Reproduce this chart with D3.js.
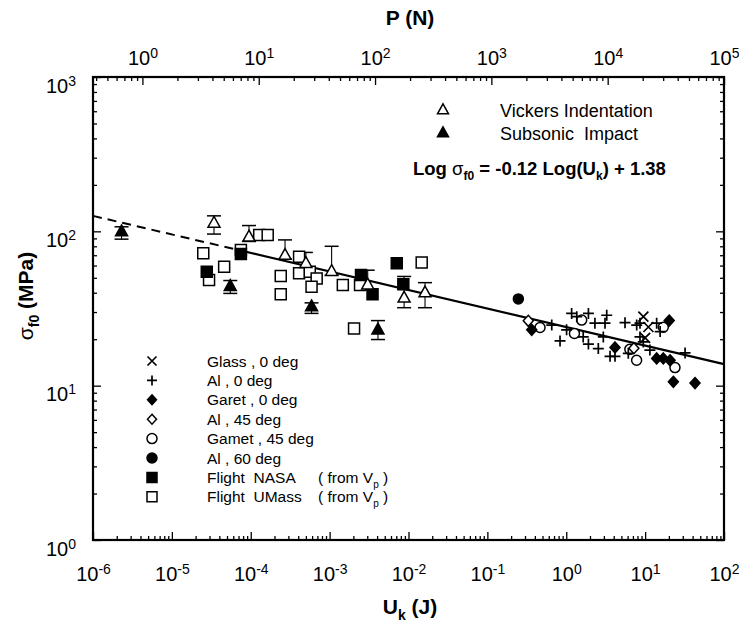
<!DOCTYPE html>
<html>
<head>
<meta charset="utf-8">
<script src="https://cdn.jsdelivr.net/npm/d3@7"></script>
<style>
  body { margin: 0; background: #fff; }
  svg { display: block; }
  text { font-family: "Liberation Sans", Arial, Helvetica, sans-serif; fill: #000; }
</style>
</head>
<body>
<svg id="chart" width="739" height="632"></svg>
<script>
// ---- axis domains and ticks ----
const uDomain = [1e-6, 1e2];          // kinetic energy U_k (J)
const sigmaDomain = [1, 1e3];         // strength sigma_f0 (MPa)
const pDomain = [0.376, 1e5];         // load P (N), top axis
const uTicks = [1e-6, 1e-5, 1e-4, 1e-3, 1e-2, 1e-1, 1e0, 1e1, 1e2];
const sigmaTicks = [1e0, 1e1, 1e2, 1e3];
const pTicks = [1e0, 1e1, 1e2, 1e3, 1e4, 1e5];

// ---- fitted line: Log sigma = slope * Log(U) + intercept ----
const fitSlope = -0.12;
const fitIntercept = 1.38;
const fitDashedEnd = 6.3e-5;          // extrapolated (dashed) below this energy

// ---- data: [U (J), sigma (MPa), lower, upper] ----
const vickers = [
  [3.42e-5, 113, 96, 126],
  [9.5e-5, 92, 86, 109],
  [2.72e-4, 70, 66, 88],
  [5.0e-4, 62, 58, 73],
  [1.06e-3, 55, 52, 80],
  [3.04e-3, 45, 42, 56],
  [8.8e-3, 37, 32, 51],
  [1.62e-2, 40, 32, 46.5]
];
const subsonic = [
  [2.3e-6, 99.5, 89, 107],
  [5.5e-5, 44, 39.6, 48],
  [5.9e-4, 32.5, 29.4, 34.4],
  [4.1e-3, 23, 19.9, 26.4]
];
// ---- data: [U (J), sigma (MPa)] ----
const glass0 = [[9.5, 28], [11, 24], [10, 20.4]];
const al0 = [
  [0.655, 24.7], [0.834, 19.5], [1.01, 23.0], [1.17, 29.4], [1.36, 28.0],
  [1.91, 29.4], [1.64, 20.7], [1.91, 18.6], [2.55, 17.4], [2.31, 25.4],
  [3.10, 25.4], [3.26, 28.6], [2.95, 20.7], [3.59, 15.5], [4.15, 15.5],
  [5.56, 25.6], [7.82, 24.7], [8.61, 20.7], [11.5, 17.0], [14.0, 25.4],
  [15.5, 22.4], [9.48, 19.2], [32.1, 16.3], [6.12, 16.2], [8.61, 25.4]
];
const garnet0 = [
  [0.365, 23.0], [4.15, 17.7], [20.2, 26.4], [14.0, 15.0], [17.0, 15.0],
  [20.7, 14.6], [22.8, 10.6], [42.9, 10.4]
];
const al45 = [[0.33, 26.3], [7.2, 17.5]];
const garnet45 = [
  [0.465, 23.8], [1.57, 26.6], [1.27, 21.8], [6.4, 17.2], [7.8, 14.6],
  [17.0, 23.9], [23.9, 13.1]
];
const al60 = [[0.247, 36.5]];
const flightNASA = [
  [2.77e-5, 54.7], [7.5e-5, 71.3], [2.5e-3, 52.1], [3.5e-3, 39.1],
  [7.1e-3, 62.1], [8.6e-3, 45.4]
];
const flightUMass = [
  [2.5e-5, 72.1], [2.96e-5, 48.4], [4.6e-5, 59.0], [7.5e-5, 75.7],
  [1.28e-4, 94.6], [1.64e-4, 94.6], [2.4e-4, 51.4], [2.4e-4, 39.1],
  [4.1e-4, 68.5], [4.1e-4, 53.5], [5.6e-4, 54.7], [6.85e-4, 49.5],
  [5.9e-4, 43.8], [1.47e-3, 44.9], [2.43e-3, 44.9], [1.47e-2, 62.7],
  [2.04e-3, 23.5]
];

// ---- layout ----
const plot = { left: 93, right: 724, top: 77, bottom: 540 };
const svg = d3.select("#chart");

const x = d3.scaleLog().domain(uDomain).range([plot.left, plot.right]);
const y = d3.scaleLog().domain(sigmaDomain).range([plot.bottom, plot.top]);
const xp = d3.scaleLog().domain(pDomain).range([plot.left, plot.right]);

function minorTicks(scale) {
  const [a, b] = scale.domain();
  const out = [];
  for (let e = Math.floor(Math.log10(a)); e < Math.ceil(Math.log10(b)); e++) {
    for (let m = 2; m <= 9; m++) {
      const v = m * Math.pow(10, e);
      if (v > a && v < b) out.push(v);
    }
  }
  return out;
}

function powerLabel(sel) {
  sel.each(function (d) {
    const t = d3.select(this);
    t.text(null);
    t.append("tspan").text("10");
    t.append("tspan").attr("dy", "-0.5em").attr("font-size", "14px")
      .text(Math.round(Math.log10(d)));
  });
}

function styleAxis(g) {
  g.select(".domain").remove();
  g.selectAll(".tick line").attr("stroke", "#000").attr("stroke-width", 1.3);
}

// bottom axis (U_k)
const gBottom = svg.append("g").attr("transform", `translate(0,${plot.bottom})`);
gBottom.append("g").call(d3.axisBottom(x).tickValues(minorTicks(x)).tickSize(-4).tickFormat("")).call(styleAxis);
gBottom.append("g")
  .call(d3.axisBottom(x).tickValues(uTicks).tickSize(-8))
  .call(styleAxis)
  .call(g => g.selectAll(".tick text").attr("y", 41).attr("dy", 0)
    .attr("font-size", "20px").call(powerLabel));

// top axis (P)
const gTop = svg.append("g").attr("transform", `translate(0,${plot.top})`);
gTop.append("g").call(d3.axisTop(xp).tickValues(minorTicks(xp)).tickSize(-4).tickFormat("")).call(styleAxis);
gTop.append("g")
  .call(d3.axisTop(xp).tickValues(pTicks).tickSize(-8))
  .call(styleAxis)
  .call(g => g.selectAll(".tick text").attr("y", -12).attr("dy", 0)
    .attr("font-size", "20px").call(powerLabel));

// left axis (sigma)
const gLeft = svg.append("g").attr("transform", `translate(${plot.left},0)`);
gLeft.append("g").call(d3.axisLeft(y).tickValues(minorTicks(y)).tickSize(-4).tickFormat("")).call(styleAxis);
gLeft.append("g")
  .call(d3.axisLeft(y).tickValues(sigmaTicks).tickSize(-8))
  .call(styleAxis)
  .call(g => g.selectAll(".tick text").attr("x", -17).attr("dy", 0).attr("y", 15)
    .attr("text-anchor", "end").attr("font-size", "20px").call(powerLabel));

// right axis (sigma, mirrored ticks)
const gRight = svg.append("g").attr("transform", `translate(${plot.right},0)`);
gRight.append("g").call(d3.axisRight(y).tickValues(minorTicks(y)).tickSize(-4).tickFormat("")).call(styleAxis);
gRight.append("g").call(d3.axisRight(y).tickValues(sigmaTicks).tickSize(-8).tickFormat("")).call(styleAxis);

// frame
svg.append("rect")
  .attr("x", plot.left).attr("y", plot.top)
  .attr("width", plot.right - plot.left).attr("height", plot.bottom - plot.top)
  .attr("fill", "none").attr("stroke", "#000").attr("stroke-width", 2.2);

// axis titles
svg.append("text").attr("x", 410).attr("y", 25).attr("text-anchor", "middle")
  .attr("font-size", "21px").attr("font-weight", "bold").text("P  (N)");

const uTitle = svg.append("text").attr("x", 410).attr("y", 614).attr("text-anchor", "middle")
  .attr("font-size", "21px").attr("font-weight", "bold");
uTitle.append("tspan").text("U");
uTitle.append("tspan").attr("dy", 6).attr("font-size", "14px").text("k");
uTitle.append("tspan").attr("dy", -6).text("  (J)");

const sTitle = svg.append("text")
  .attr("transform", "translate(33,296) rotate(-90)")
  .attr("text-anchor", "middle").attr("font-size", "21px").attr("font-weight", "bold");
sTitle.append("tspan").attr("font-weight", "normal").text("σ");
sTitle.append("tspan").attr("dy", 6).attr("font-size", "14px").text("f0");
sTitle.append("tspan").attr("dy", -6).text("  (MPa)");

// fitted line
const fit = u => Math.pow(10, fitSlope * Math.log10(u) + fitIntercept);
const line = d3.line().x(d => x(d)).y(d => y(fit(d)));
svg.append("path").attr("d", line([uDomain[0], fitDashedEnd]))
  .attr("fill", "none").attr("stroke", "#000").attr("stroke-width", 2)
  .attr("stroke-dasharray", "9,6");
svg.append("path").attr("d", line([fitDashedEnd, uDomain[1]]))
  .attr("fill", "none").attr("stroke", "#000").attr("stroke-width", 2.2);

// marker shapes
function shapePath(kind, s) {
  const h = s / 2;
  switch (kind) {
    case "triangle": {
      const th = s * 0.9;
      return `M0,${-th * 0.62}L${h},${th * 0.38}L${-h},${th * 0.38}Z`;
    }
    case "square": return `M${-h},${-h}H${h}V${h}H${-h}Z`;
    case "diamond": return `M0,${-h * 1.1}L${h},0L0,${h * 1.1}L${-h},0Z`;
    case "plus": return `M${-h},0H${h}M0,${-h}V${h}`;
    case "cross": return `M${-h},${-h}L${h},${h}M${-h},${h}L${h},${-h}`;
  }
}
function drawMarker(g, kind, filled, s, cx, cy) {
  if (kind === "circle") {
    g.append("circle").attr("cx", cx).attr("cy", cy).attr("r", s / 2)
      .attr("fill", filled ? "#000" : "#fff").attr("stroke", "#000").attr("stroke-width", 1.5);
  } else {
    const open = kind === "plus" || kind === "cross";
    g.append("path").attr("d", shapePath(kind, s))
      .attr("transform", `translate(${cx},${cy})`)
      .attr("fill", open ? "none" : (filled ? "#000" : "#fff"))
      .attr("stroke", "#000").attr("stroke-width", open ? 1.7 : 1.5)
      .attr("stroke-linejoin", "miter");
  }
}

const marks = svg.append("g");

// error bars
function errorBars(data) {
  data.forEach(d => {
    const cx = x(d[0]);
    marks.append("line").attr("x1", cx).attr("x2", cx)
      .attr("y1", y(d[2])).attr("y2", y(d[3])).attr("stroke", "#000").attr("stroke-width", 1.1);
    [d[2], d[3]].forEach(v => marks.append("line")
      .attr("x1", cx - 7).attr("x2", cx + 7).attr("y1", y(v)).attr("y2", y(v))
      .attr("stroke", "#000").attr("stroke-width", 1.5));
  });
}
errorBars(vickers);
errorBars(subsonic);

const series = [
  { data: flightUMass, kind: "square", filled: false, size: 11 },
  { data: flightNASA, kind: "square", filled: true, size: 11 },
  { data: vickers, kind: "triangle", filled: false, size: 12 },
  { data: subsonic, kind: "triangle", filled: true, size: 12 },
  { data: al60, kind: "circle", filled: true, size: 10 },
  { data: garnet45, kind: "circle", filled: false, size: 10 },
  { data: al45, kind: "diamond", filled: false, size: 10 },
  { data: garnet0, kind: "diamond", filled: true, size: 10 },
  { data: al0, kind: "plus", filled: false, size: 11 },
  { data: glass0, kind: "cross", filled: false, size: 10 }
];
series.forEach(s => s.data.forEach(d => drawMarker(marks, s.kind, s.filled, s.size, x(d[0]), y(d[1]))));

// upper legend
const topLegend = [
  { label: "Vickers Indentation", filled: false },
  { label: "Subsonic  Impact", filled: true }
];
topLegend.forEach((d, i) => {
  const cy = 110 + i * 23;
  drawMarker(svg, "triangle", d.filled, 11, 443, cy);
  svg.append("text").attr("x", 500).attr("y", cy + 6.5).attr("font-size", "18px")
    .attr("xml:space", "preserve").text(d.label);
});

// equation of the fitted line
const eq = svg.append("text").attr("x", 413).attr("y", 175)
  .attr("font-size", "18.5px").attr("font-weight", "bold");
eq.append("tspan").text("Log ");
eq.append("tspan").attr("font-weight", "normal").text("σ");
eq.append("tspan").attr("dy", 5).attr("font-size", "12px").text("f0");
eq.append("tspan").attr("dy", -5).text(` = ${fitSlope.toFixed(2)} Log(U`);
eq.append("tspan").attr("dy", 5).attr("font-size", "12px").text("k");
eq.append("tspan").attr("dy", -5).text(`) + ${fitIntercept.toFixed(2)}`);

// lower legend
const lowLegend = [
  { label: "Glass , 0 deg", kind: "cross", filled: false, size: 9 },
  { label: "Al , 0 deg", kind: "plus", filled: false, size: 10 },
  { label: "Garet , 0 deg", kind: "diamond", filled: true, size: 9 },
  { label: "Al , 45 deg", kind: "diamond", filled: false, size: 9 },
  { label: "Gamet , 45 deg", kind: "circle", filled: false, size: 10 },
  { label: "Al , 60 deg", kind: "circle", filled: true, size: 10 },
  { label: "Flight  NASA", note: true, kind: "square", filled: true, size: 10 },
  { label: "Flight  UMass", note: true, kind: "square", filled: false, size: 10 }
];
lowLegend.forEach((d, i) => {
  const cy = 361 + i * 19.4;
  drawMarker(svg, d.kind, d.filled, d.size, 152, cy);
  const t = svg.append("text").attr("x", 207).attr("y", cy + 5.5).attr("font-size", "15.5px")
    .attr("xml:space", "preserve");
  t.append("tspan").text(d.label);
  if (d.note) {
    t.append("tspan").attr("x", 318).text("( from V");
    t.append("tspan").attr("dy", 5).attr("font-size", "10px").text("p");
    t.append("tspan").attr("dy", -5).text(" )");
  }
});
</script>
</body>
</html>
